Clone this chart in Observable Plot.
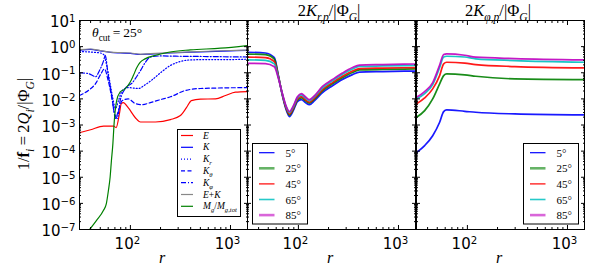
<!DOCTYPE html>
<html><head><meta charset="utf-8">
<script src="https://cdn.jsdelivr.net/npm/d3@7"></script>
<script src="https://cdn.jsdelivr.net/npm/@observablehq/plot@0.6"></script>
<style>
body{margin:0;background:#fff}
#chart{position:relative;width:598px;height:270px;overflow:hidden;background:#fff}
#chart > svg{position:absolute;top:0}
</style>
</head><body><div id="chart"></div><script>
// ---------- data ----------
// Panel 1 (theta_cut = 25 deg)
const rE   = [31,40,54,68,72,78,81,85,95,112,126,178,251,316,363,407,501,708,891,1122,1479];
const vE   = [5.1e-4,6.6e-4,9.0e-4,9.0e-4,8.0e-4,3.0e-3,6.6e-3,7.2e-3,4.6e-3,1.9e-3,1.3e-3,1.3e-3,1.6e-3,2.3e-3,4.6e-3,8.6e-3,9.8e-3,1.0e-2,1.34e-2,1.8e-2,1.9e-2];
const rK   = [31,40,50,63,79,100,126,158,251,501,1000,1479];
const vK   = [0.74,0.78,0.69,0.60,0.57,0.55,0.50,0.52,0.57,0.63,0.69,0.72];
const vEK  = [0.77,0.81,0.71,0.62,0.59,0.57,0.52,0.54,0.59,0.65,0.71,0.74];
const rKr  = [31,40,50,54,58,62,66,71,76,83,95,120,141,166,200,251,316,398,631,1000,1479];
const vKr  = [0.65,0.62,0.57,0.50,0.19,0.050,0.013,0.0043,0.0086,0.021,0.027,0.025,0.035,0.055,0.10,0.19,0.27,0.31,0.32,0.32,0.33];
const rKth = [31,38,45,51,55,60,66,71,76,83,95,112,132,158,200,251,355,501,1479];
const vKth = [0.0134,0.021,0.039,0.094,0.14,0.05,0.0086,0.0018,0.0036,0.0086,0.010,0.0066,0.006,0.0072,0.0094,0.012,0.021,0.025,0.027];
const rKph = [31,38,45,49,54,56,60,65,69,74,79,89,105,112,126,141,158,200,282,501,1479];
const vKph = [0.10,0.093,0.071,0.12,0.29,0.46,0.078,0.0134,0.003,0.0018,0.0086,0.025,0.042,0.06,0.12,0.25,0.40,0.44,0.43,0.42,0.40];
const rMg  = [39.5,45.7,53.7,57.5,60.3,62.7,64.6,66.8,68.5,70.5,72.9,78.7,88.5,99.3,107,116,125,140,177,240,398,794,1468];
const vMg  = [1.05e-7,2.2e-7,5.3e-7,9.8e-7,3.1e-6,1.0e-5,4.3e-5,1.9e-4,9.5e-4,3.6e-3,8.6e-3,0.018,0.024,0.043,0.078,0.16,0.25,0.34,0.46,0.61,0.75,0.87,1.1];

// Panel 2: 2K_{r,p}/|Phi_G|
const rP2    = [31,46.8,57.5,63.1,69.2,75.9,81.3,89.1,97.7,107,117.5,129,145,174,219,275,347,407,692,1479];
const kr5    = [0.61,0.57,0.38,0.078,0.0134,0.0036,0.0021,0.0036,0.0079,0.0094,0.0072,0.0060,0.0086,0.0174,0.032,0.055,0.085,0.106,0.111,0.116];
const kr25   = [0.52,0.49,0.334,0.075,0.0141,0.0040,0.0024,0.0041,0.0090,0.0110,0.0084,0.0069,0.0098,0.0204,0.038,0.065,0.103,0.128,0.134,0.140];
const kr45   = [0.397,0.379,0.267,0.070,0.0146,0.00425,0.00264,0.00445,0.0098,0.0122,0.0093,0.0075,0.0108,0.0227,0.042,0.073,0.116,0.145,0.151,0.158];
const kr65   = [0.311,0.30,0.218,0.065,0.0153,0.0047,0.0030,0.0050,0.0111,0.0143,0.0108,0.0086,0.0123,0.0265,0.049,0.087,0.140,0.174,0.182,0.190];
const kr85   = [0.23,0.225,0.17,0.06,0.016,0.0050,0.0033,0.0055,0.012,0.016,0.012,0.0094,0.0134,0.030,0.055,0.097,0.158,0.197,0.206,0.216];

// Panel 3: 2K_{phi,p}/|Phi_G|
const rP3    = [31,37.4,45,52.8,57.9,62.1,94,121,297,1479];
const kp5    = [8.8e-5,1.63e-4,3.9e-4,1.27e-3,3.26e-3,3.79e-3,3.35e-3,3.07e-3,2.66e-3,2.44e-3];
const kp25   = [1.97e-3,3.56e-3,0.0100,0.0376,0.078,0.0908,0.083,0.0734,0.0584,0.0549];
const kp45   = [6.43e-3,0.0109,0.0242,0.078,0.219,0.252,0.235,0.206,0.173,0.154];
const kp65   = [0.0100,0.0160,0.0353,0.158,0.40,0.429,0.40,0.341,0.293,0.252];
const kp85   = [0.0115,0.019,0.042,0.197,0.498,0.53,0.468,0.393,0.35,0.312];

const angleLabels = ["5°","25°","45°","65°","85°"];
const angleColors = ["#0000ff","#008000","#ff0000","#00bfbf","#bf00bf"];

const yMajor = [1e-7,1e-6,1e-5,1e-4,1e-3,1e-2,1e-1,1e0,1e1];
const yExp   = ["−7","−6","−5","−4","−3","−2","−1","0","1"];
const xMajor = [100,1000];
const xExp   = ["2","3"];
const yMinor = yMajor.slice(0,-1).flatMap(d => [2,3,4,5,6,7,8,9].map(m => m*d));
const xMinor = [40,50,60,70,80,90,200,300,400,500,600,700,800,900];

const X_DOMAIN = [31, 1479];
const Y_DOMAIN = [1e-7, 10];

const zip = (r, v) => r.map((d, i) => ({r: d, v: v[i]}));

// ---------- panels ----------
function makePanel({left, width, marginLeft, series, yLabels}) {
  const marks = [];
  for (const s of series) {
    marks.push(Plot.line(zip(s.r, s.v), {x: "r", y: "v", stroke: s.color, strokeWidth: s.w ?? 1.2,
      strokeDasharray: s.dash, strokeOpacity: s.op ?? 1, clip: true, curve: "monotone-x"}));
  }
  marks.push(Plot.frame({stroke: "#000", strokeWidth: 1}));
  const blank = () => "";
  marks.push(Plot.axisX({anchor: "bottom", ticks: xMajor, tickSize: -4, tickFormat: blank, label: null}));
  marks.push(Plot.axisX({anchor: "bottom", ticks: xMinor, tickSize: -2, tickFormat: blank, label: null}));
  marks.push(Plot.axisX({anchor: "top", ticks: xMajor, tickSize: -4, tickFormat: blank, label: null}));
  marks.push(Plot.axisX({anchor: "top", ticks: xMinor, tickSize: -2, tickFormat: blank, label: null}));
  marks.push(Plot.axisY({anchor: "left", ticks: yMajor, tickSize: -4, tickFormat: blank, label: null}));
  marks.push(Plot.axisY({anchor: "left", ticks: yMinor, tickSize: -2, tickFormat: blank, label: null}));
  marks.push(Plot.axisY({anchor: "right", ticks: yMajor, tickSize: -4, tickFormat: blank, label: null}));
  marks.push(Plot.axisY({anchor: "right", ticks: yMinor, tickSize: -2, tickFormat: blank, label: null}));
  marks.push(Plot.axisX({anchor: "bottom", ticks: xMajor, tickSize: 0, tickPadding: 9, dx: -3,
    tickFormat: d => "10^" + xExp[xMajor.indexOf(d)], fontSize: 15, label: null}));
  if (yLabels) {
    marks.push(Plot.axisY({anchor: "left", ticks: yMajor, tickSize: 0, tickPadding: 4, dy: 2,
      tickFormat: d => "10^" + yExp[yMajor.indexOf(d)], fontSize: 15, label: null}));
  }
  const svg = Plot.plot({
    width, height: 270, marginLeft, marginRight: 0, marginTop: 20, marginBottom: 41,
    x: {type: "log", domain: X_DOMAIN},
    y: {type: "log", domain: Y_DOMAIN},
    style: {fontFamily: "DejaVu Sans", overflow: "visible", background: "transparent", color: "#000"},
    marks
  });
  svg.style.left = left + "px";
  svg.querySelectorAll("text").forEach(t => {
    const m = (t.textContent || "").match(/^10\^(.+)$/);
    if (!m) return;
    t.textContent = "10";
    const ts = document.createElementNS("http://www.w3.org/2000/svg", "tspan");
    ts.setAttribute("dy", "-0.5em");
    ts.setAttribute("font-size", "0.68em");
    ts.textContent = m[1];
    t.appendChild(ts);
  });
  document.getElementById("chart").appendChild(svg);
}

makePanel({left: 0, width: 247, marginLeft: 79, yLabels: true, series: [
  {r: rE, v: vE, color: "#ff0000"},
  {r: rK, v: vK, color: "#0000ff"},
  {r: rKr, v: vKr, color: "#0000ff", dash: "1,2"},
  {r: rKth, v: vKth, color: "#0000ff", dash: "4,2.5"},
  {r: rKph, v: vKph, color: "#0000ff", dash: "5,2,1,2"},
  {r: rK, v: vEK, color: "#888888"},
  {r: rMg, v: vMg, color: "#008000"}
]});
makePanel({left: 247, width: 168, marginLeft: 0, series: [kr5, kr25, kr45, kr65, kr85].map((v, i) =>
  ({r: rP2, v, color: angleColors[i], w: 1.7, op: 0.9}))});
makePanel({left: 416, width: 168, marginLeft: 0, series: [kp5, kp25, kp45, kp65, kp85].map((v, i) =>
  ({r: rP3, v, color: angleColors[i], w: 1.7, op: 0.9}))});

// ---------- text overlay ----------
const ov = d3.select("#chart").append("svg").attr("width", 598).attr("height", 270)
  .style("left", "0px").attr("font-family", "'Liberation Serif', 'DejaVu Serif', serif");

function rich(sel, segs, fs) {
  let cur = 0;
  for (const s of segs) {
    const ts = sel.append("tspan").text(s.t);
    const tgt = s.sub ? fs * 0.3 : 0;
    if (tgt !== cur) ts.attr("dy", tgt - cur);
    cur = tgt;
    if (s.sub) ts.attr("font-size", fs * 0.7);
    if (s.i) ts.attr("font-style", "italic");
    if (s.b) ts.attr("font-weight", "bold");
  }
}

// y label
rich(ov.append("text").attr("transform", "translate(29,124) rotate(-90)").attr("text-anchor", "middle").attr("font-size", 16.5),
  [{t: "1/"}, {t: "f", b: true}, {t: "i", i: true, sub: true}, {t: "\u2009=\u20092"}, {t: "Q", i: true}, {t: "i", i: true, sub: true},
   {t: "/|Φ"}, {t: "G", i: true, sub: true}, {t: "|"}], 16.5);

// titles
rich(ov.append("text").attr("x", 329).attr("y", 16).attr("text-anchor", "middle").attr("font-size", 16.5),
  [{t: "2"}, {t: "K", i: true}, {t: "r,p", i: true, sub: true}, {t: "/|Φ"}, {t: "G", i: true, sub: true}, {t: "|"}], 16.5);
rich(ov.append("text").attr("x", 498).attr("y", 16).attr("text-anchor", "middle").attr("font-size", 16.5),
  [{t: "2"}, {t: "K", i: true}, {t: "φ,p", i: true, sub: true}, {t: "/|Φ"}, {t: "G", i: true, sub: true}, {t: "|"}], 16.5);

// x labels
for (const cx of [162, 330, 499]) {
  ov.append("text").attr("x", cx).attr("y", 263).attr("text-anchor", "middle").attr("font-size", 16)
    .attr("font-style", "italic").text("r");
}

// annotation
rich(ov.append("text").attr("x", 92).attr("y", 37).attr("font-size", 13.5),
  [{t: "θ", i: true}, {t: "cut", sub: true}, {t: "\u2009=\u200925°"}], 13.5);

// legend panel 1
const leg1 = [
  {segs: [{t: "E", i: true}], color: "#ff0000"},
  {segs: [{t: "K", i: true}], color: "#0000ff"},
  {segs: [{t: "K", i: true}, {t: "r", i: true, sub: true}], color: "#0000ff", dash: "1,2"},
  {segs: [{t: "K", i: true}, {t: "θ", i: true, sub: true}], color: "#0000ff", dash: "4,2.5"},
  {segs: [{t: "K", i: true}, {t: "φ", i: true, sub: true}], color: "#0000ff", dash: "5,2,1,2"},
  {segs: [{t: "E", i: true}, {t: "+"}, {t: "K", i: true}], color: "#888888"},
  {segs: [{t: "M", i: true}, {t: "g", i: true, sub: true}, {t: "/"}, {t: "M", i: true}, {t: "g,tot", i: true, sub: true}], color: "#008000"}
];
ov.append("rect").attr("x", 177.5).attr("y", 129.5).attr("width", 63).attr("height", 87)
  .attr("fill", "#fff").attr("stroke", "#000");
leg1.forEach((d, i) => {
  const y = 135.5 + i * 11.8;
  ov.append("line").attr("x1", 181).attr("x2", 193).attr("y1", y).attr("y2", y)
    .attr("stroke", d.color).attr("stroke-width", 1.2).attr("stroke-dasharray", d.dash || null);
  rich(ov.append("text").attr("x", 203).attr("y", y + 3).attr("font-size", 9.5), d.segs, 9.5);
});

// legends panel 2 and 3
const swatchStyle = [
  {w: 1.2, op: 1}, {w: 2.6, op: 0.6}, {w: 1.2, op: 1}, {w: 1.6, op: 0.85}, {w: 2.6, op: 0.6}
];
for (const lx of [252.5, 523.5]) {
  ov.append("rect").attr("x", lx).attr("y", 143.5).attr("width", 55).attr("height", 80.5)
    .attr("fill", "#fff").attr("stroke", "#000");
  angleLabels.forEach((lab, i) => {
    const y = 152.7 + i * 15.6;
    ov.append("line").attr("x1", lx + 6.5).attr("x2", lx + 22).attr("y1", y).attr("y2", y)
      .attr("stroke", angleColors[i]).attr("stroke-width", swatchStyle[i].w).attr("stroke-opacity", swatchStyle[i].op);
    ov.append("text").attr("x", lx + 33).attr("y", y + 4).attr("font-size", 11).text(lab);
  });
}
</script></body></html>
